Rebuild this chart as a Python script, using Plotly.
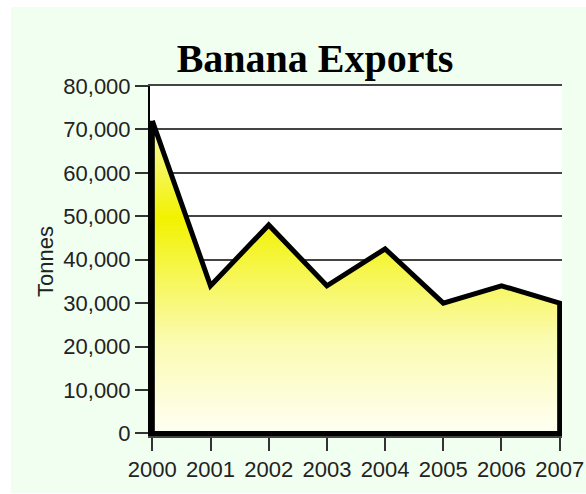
import plotly.graph_objects as go

years = [2000, 2001, 2002, 2003, 2004, 2005, 2006, 2007]
exports = [72000, 34000, 48000, 34000, 42500, 30000, 34000, 30000]
year_labels = [str(y) for y in years]
title_text = "Banana Exports"
y_title = "Tonnes"

# closed outline of the area (down to zero at both ends)
px = years + [years[-1], years[0], years[0]]
py = exports + [0, 0, exports[0]]

fig = go.Figure()
fig.add_trace(go.Scatter(
    x=px, y=py, mode="lines", fill="toself",
    fillgradient=dict(type="vertical",
                      colorscale=[[0, "#fffff4"], [0.3, "#fbfbb0"], [0.69, "#f2f200"], [1, "#f9f9b0"]]),
    line=dict(color="black", width=5),
    hoverinfo="skip", showlegend=False,
))

W, H = 586, 494
L, R, T, B = 150, 24, 86, 58
pw, ph = W - L - R, H - T - B


def fx(page_x):
    return (page_x - L) / pw


def fy(page_y):
    return (H - B - page_y) / ph


fig.update_layout(
    width=W, height=H,
    margin=dict(l=L, r=R, t=T, b=B, autoexpand=False),
    paper_bgcolor="white",
    plot_bgcolor="white",
    showlegend=False,
    shapes=[
        dict(type="rect", xref="paper", yref="paper", layer="below",
             x0=fx(11), x1=fx(600), y0=fy(493), y1=fy(7),
             fillcolor="#F0FFF0", line=dict(width=0)),
        dict(type="rect", xref="paper", yref="paper", layer="below",
             x0=0, x1=1, y0=0, y1=1,
             fillcolor="white", line=dict(width=0)),
    ],
    title=dict(text=title_text, x=315 / W, xanchor="center", xref="container",
               y=(H - 58) / H, yanchor="middle",
               font=dict(family="Liberation Serif", size=40, color="black", weight="bold")),
    annotations=[dict(text=y_title, xref="paper", yref="paper",
                      x=fx(45), y=fy(262), textangle=-90, showarrow=False,
                      xanchor="center", yanchor="middle",
                      font=dict(family="Liberation Sans", size=22, color="#222"))],
    font=dict(family="Liberation Sans", size=22, color="#222"),
)

fig.update_xaxes(
    range=[1999.96, 2007.04], tickvals=years, ticktext=year_labels,
    showgrid=False, zeroline=False, automargin=False,
    showline=True, mirror=True, linecolor="#444", linewidth=1.5,
    ticks="outside", ticklen=13, tickwidth=1.5, tickcolor="#333",
    tickfont=dict(family="Liberation Sans", size=22, color="#222"),
)
fig.update_yaxes(
    range=[-600, 80000], tick0=0, dtick=10000, tickformat=",",
    showgrid=True, gridcolor="#444", gridwidth=1.5, automargin=False,
    zeroline=False, showline=True, linecolor="black", linewidth=2,
    ticks="outside", ticklen=13, tickwidth=1.5, tickcolor="#333",
    tickfont=dict(family="Liberation Sans", size=22, color="#222"),
)

fig.write_html(
    "out.html",
    config={"displayModeBar": False},
    post_script="document.body.style.margin='0';document.body.style.overflow='hidden';",
)
